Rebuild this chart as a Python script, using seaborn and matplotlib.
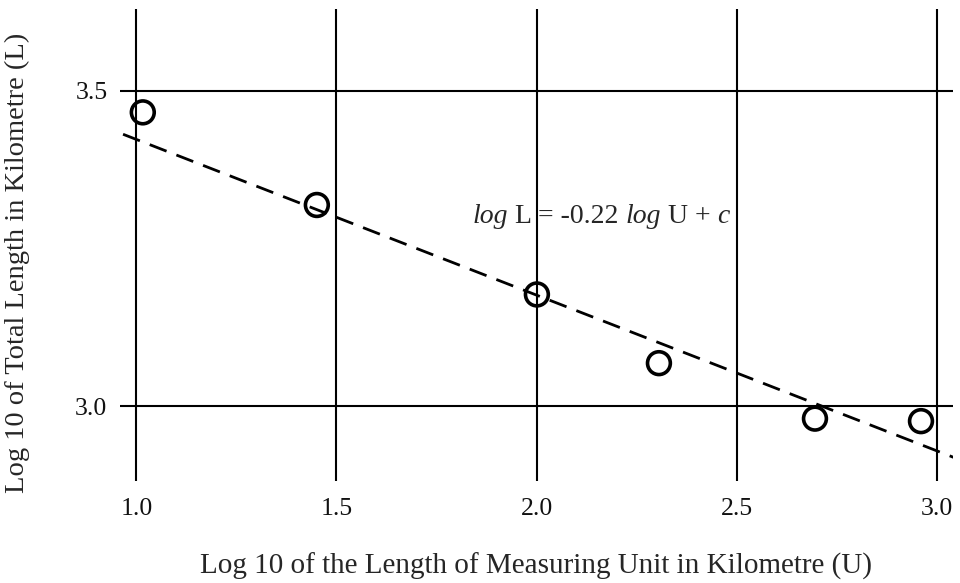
import matplotlib
matplotlib.use("Agg")
import matplotlib.pyplot as plt
import seaborn as sns
import numpy as np
import pandas as pd

# Data
log_u = [1.016, 1.451, 2.001, 2.306, 2.696, 2.961]
log_l = [3.466, 3.319, 3.177, 3.068, 2.980, 2.976]
fit_slope = -0.247
fit_intercept = 3.670
fit_x = [0.90, 3.10]
x_ticks = [1.0, 1.5, 2.0, 2.5, 3.0]
y_ticks = [3.0, 3.5]
x_label = "Log 10 of the Length of Measuring Unit in Kilometre (U)"
y_label = "Log 10 of Total Length in Kilometre (L)"
eq_parts = [("log", "italic"), (" L = -0.22 ", "normal"), ("log", "italic"),
            (" U + ", "normal"), ("c", "italic")]

sns.set_theme(style="white")
plt.rcParams['font.family'] = ['Liberation Serif', 'DejaVu Serif']

df = pd.DataFrame({"U": log_u, "L": log_l})
fit_df = pd.DataFrame({"U": fit_x,
                       "L": [fit_intercept + fit_slope * v for v in fit_x]})

fig = plt.figure(figsize=(9.6, 5.83), dpi=100)
ax = fig.add_axes([120 / 960, 1 - 481 / 583, 833 / 960, 472 / 583])

ax.set_xlim(0.959, 3.041)
ax.set_ylim(2.881, 3.630)

for x in x_ticks:
    ax.axvline(x, color="black", lw=1.5, zorder=1)
for y in y_ticks:
    ax.axhline(y, color="black", lw=1.5, zorder=1)

sns.lineplot(data=fit_df, x="U", y="L", ax=ax, color="black", lw=2.0,
             zorder=2)
ax.lines[-1].set_dashes([6.5, 3.8])

sns.scatterplot(data=df, x="U", y="L", ax=ax, marker="o", s=270,
                facecolors="none", edgecolor="black", linewidth=2.6,
                zorder=3)

for s in ax.spines.values():
    s.set_visible(False)

ax.set_xticks(x_ticks)
ax.set_yticks(y_ticks)
ax.set_xticklabels([f"{v:.1f}" for v in x_ticks])
ax.set_yticklabels([f"{v:.1f}" for v in y_ticks])
ax.tick_params(axis="both", length=0, labelsize=18.5, colors="#111111")
ax.tick_params(axis="x", pad=12)
ax.tick_params(axis="y", pad=9)

ax.set_xlabel(x_label, fontsize=21)
ax.set_ylabel(y_label, fontsize=20.5)
ax.xaxis.set_label_coords(0.5, -0.152)
ax.xaxis.label.set_va("top")
ax.yaxis.set_label_coords(-0.108, 0.462)

# equation annotation, built from chained text pieces
prev = ax.text(1.840, 3.290, eq_parts[0][0], fontsize=20,
               style=eq_parts[0][1], ha="left", va="baseline", zorder=4)
for txt, st in eq_parts[1:]:
    prev = ax.annotate(txt, xy=(1, 0), xycoords=prev,
                       xytext=(0, 0), textcoords="offset points",
                       fontsize=20, style=st, ha="left", va="bottom",
                       zorder=4)

fig.savefig("out.png", dpi=100)
